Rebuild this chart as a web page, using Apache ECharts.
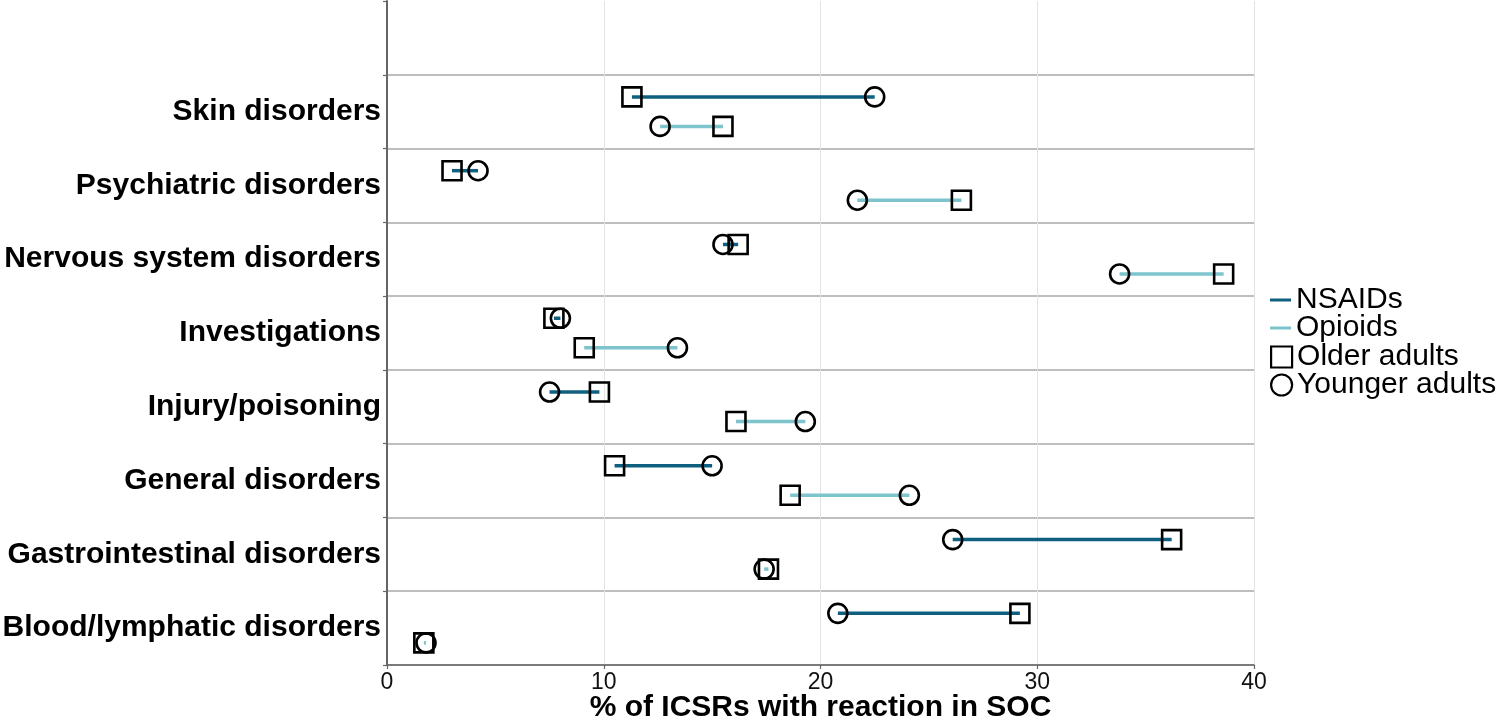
<!DOCTYPE html>
<html>
<head>
<meta charset="utf-8">
<script src="https://cdn.jsdelivr.net/npm/echarts@6/dist/echarts.min.js"></script>
<style>html,body{margin:0;padding:0;background:#fff}#chart{width:1499px;height:720px}</style>
</head>
<body>
<div id="chart"></div>
<script>
// Categories, top to bottom as displayed
const categories = ['Skin disorders','Psychiatric disorders','Nervous system disorders','Investigations','Injury/poisoning','General disorders','Gastrointestinal disorders','Blood/lymphatic disorders'];
const nsaidsOlder   = [11.3, 3.0, 16.2, 7.7, 9.8, 10.5, 36.2, 29.2];
const nsaidsYounger = [22.5, 4.2, 15.5, 8.0, 7.5, 15.0, 26.1, 20.8];
const opioidsOlder  = [15.5, 26.5, 38.6, 9.1, 16.1, 18.6, 17.6, 1.7];
const opioidsYounger= [12.6, 21.7, 33.8, 13.4, 19.3, 24.1, 17.4, 1.8];
const xTicks = [0, 10, 20, 30, 40];

const NS_COLOR = '#0f5f80';
const OP_COLOR = '#7ec4cc';
const BAND_LINE = '#a8a8a8';
const FONT = "'Liberation Sans', Arial, sans-serif";
const ROW_SHIFT = 0.2; // fraction of band between each drug row and band centre

const yCats = [''].concat(categories);
const rowPos = (i, drug) => i + 1.5 + (drug === 'N' ? -ROW_SHIFT : ROW_SHIFT);
// band separator colours: the top edge of the plot has no line
const bandLineColors = yCats.map(() => BAND_LINE).concat([BAND_LINE]);
bandLineColors[0] = 'rgba(0,0,0,0)';

const nsSeg = categories.map((c, i) => [nsaidsOlder[i], nsaidsYounger[i], rowPos(i, 'N')]);
const opSeg = categories.map((c, i) => [opioidsOlder[i], opioidsYounger[i], rowPos(i, 'O')]);
const olderPts = [], youngerPts = [];
categories.forEach((c, i) => {
  olderPts.push([nsaidsOlder[i], rowPos(i, 'N')], [opioidsOlder[i], rowPos(i, 'O')]);
  youngerPts.push([nsaidsYounger[i], rowPos(i, 'N')], [opioidsYounger[i], rowPos(i, 'O')]);
});

function segRenderer(color) {
  return function (params, api) {
    const a = api.coord([api.value(0), api.value(2)]);
    const b = api.coord([api.value(1), api.value(2)]);
    return {type: 'line', shape: {x1: a[0], y1: a[1], x2: b[0], y2: b[1]},
            style: {stroke: color, lineWidth: 3.5, lineCap: 'butt'}};
  };
}

const chart = echarts.init(document.getElementById('chart'), null, {renderer: 'canvas'});
chart.setOption({
  animation: false,
  textStyle: {fontFamily: FONT},
  grid: {left: 387, right: 245, top: 1, bottom: 55, containLabel: false, outerBoundsMode: 'none'},
  xAxis: {
    type: 'value', min: xTicks[0], max: xTicks[xTicks.length - 1], interval: 10, position: 'bottom',
    name: '% of ICSRs with reaction in SOC', nameLocation: 'middle', nameGap: 28, nameMoveOverlap: false,
    nameTextStyle: {fontSize: 30, fontWeight: 'bold', color: '#000', fontFamily: FONT},
    axisLine: {show: true, onZero: false, lineStyle: {color: '#666', width: 1.5}},
    axisTick: {show: true, length: 4, lineStyle: {color: '#666', width: 1.2}},
    axisLabel: {fontSize: 23, color: '#111', margin: 6, fontFamily: FONT},
    splitLine: {show: true, lineStyle: {color: '#e3e3e3', width: 1}}
  },
  yAxis: [{
    type: 'category', data: yCats, inverse: true, boundaryGap: true,
    axisLine: {show: true, onZero: false, lineStyle: {color: '#666', width: 2}},
    axisTick: {show: true, length: 4, lineStyle: {color: '#666', width: 1.2}},
    axisLabel: {fontSize: 30, fontWeight: 'bold', color: '#000', margin: 6, fontFamily: FONT},
    splitLine: {show: false}
  }, {
    type: 'value', min: 0, max: yCats.length, interval: 1, inverse: true, position: 'left',
    axisLine: {show: false, onZero: false}, axisTick: {show: false}, axisLabel: {show: false},
    splitLine: {show: true, lineStyle: {color: bandLineColors, width: 1.5}}
  }],
  legend: [{
    orient: 'vertical', left: 1270, top: 285, padding: 0, itemWidth: 21, itemHeight: 3, itemGap: -2,
    icon: 'rect',
    textStyle: {fontSize: 30, color: '#000', fontFamily: FONT},
    data: [
      {name: 'NSAIDs', itemStyle: {color: NS_COLOR, borderWidth: 0}},
      {name: 'Opioids', itemStyle: {color: OP_COLOR, borderWidth: 0}}
    ]
  }, {
    orient: 'vertical', left: 1270, top: 342, padding: 0, itemWidth: 21, itemHeight: 21, itemGap: -2,
    textStyle: {fontSize: 30, color: '#000', fontFamily: FONT},
    itemStyle: {color: 'transparent', borderColor: '#000', borderWidth: 2.2},
    data: [
      {name: 'Older adults', icon: 'rect'},
      {name: 'Younger adults', icon: 'circle'}
    ]
  }],
  series: [{
    name: 'NSAIDs', type: 'custom', yAxisIndex: 1, renderItem: segRenderer(NS_COLOR),
    itemStyle: {color: NS_COLOR}, encode: {x: [0, 1], y: 2}, data: nsSeg, z: 2
  }, {
    name: 'Opioids', type: 'custom', yAxisIndex: 1, renderItem: segRenderer(OP_COLOR),
    itemStyle: {color: OP_COLOR}, encode: {x: [0, 1], y: 2}, data: opSeg, z: 2
  }, {
    name: 'Older adults', type: 'scatter', yAxisIndex: 1, symbol: 'rect', symbolSize: 19,
    itemStyle: {color: 'transparent', borderColor: '#000', borderWidth: 2.6, opacity: 1},
    data: olderPts, z: 3
  }, {
    name: 'Younger adults', type: 'scatter', yAxisIndex: 1, symbol: 'circle', symbolSize: 19,
    itemStyle: {color: 'transparent', borderColor: '#000', borderWidth: 2.6, opacity: 1},
    data: youngerPts, z: 3
  }]
});
</script>
</body>
</html>
